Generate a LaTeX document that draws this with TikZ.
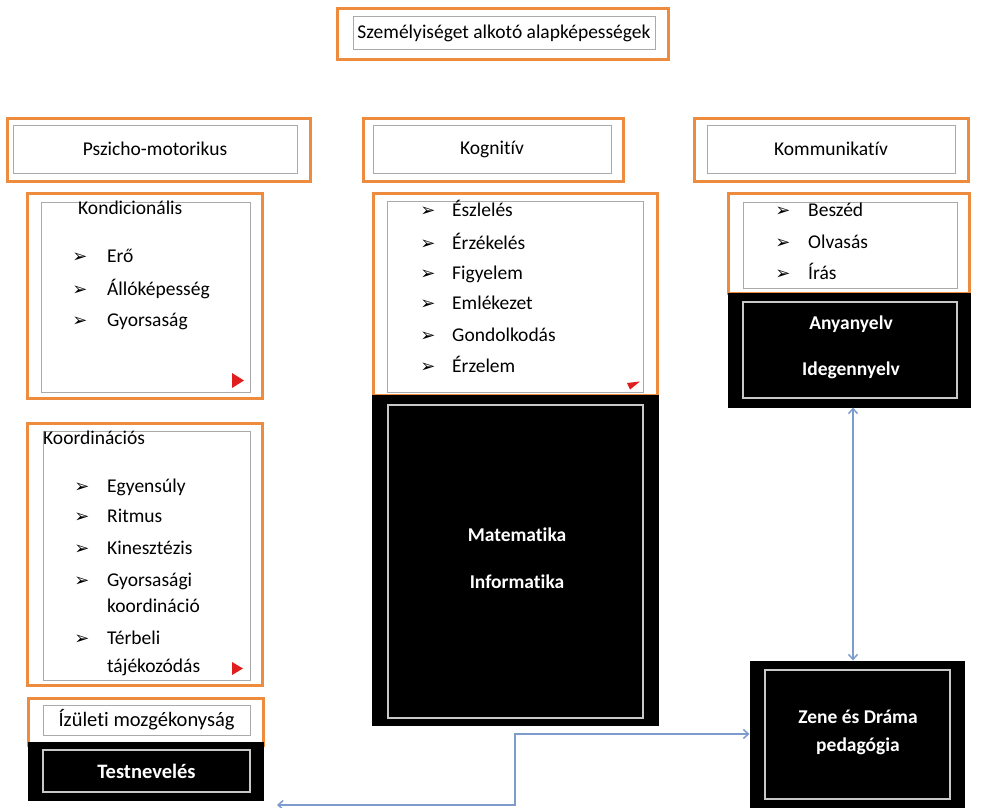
\documentclass[tikz,border=0pt]{standalone}
\usepackage{fontspec}
\setmainfont{Carlito}[Ligatures=NoCommon]
\newfontfamily\dejavu{DejaVu Sans}
\usetikzlibrary{arrows.meta}
\definecolor{orng}{RGB}{237,140,62}
\definecolor{grayln}{RGB}{170,170,170}
\definecolor{lgrayln}{RGB}{200,200,200}
\definecolor{bluearr}{RGB}{125,155,205}
\definecolor{redtri}{RGB}{225,30,30}
\begin{document}
\begin{tikzpicture}[x=1pt,y=-1pt,
  orbox/.style={draw=orng, line width=3pt, inner sep=0pt, fill=white},
  grbox/.style={draw=grayln, line width=1pt, inner sep=0pt},
  blbox/.style={draw=black, fill=black, line width=1pt, inner sep=0pt},
  bgbox/.style={draw=lgrayln, line width=1.5pt, inner sep=0pt},
  ft/.style={font=\fontsize{19.5}{23}\selectfont},
  hd/.style={font=\fontsize{19.5}{23}\selectfont},
  wt/.style={text=white, font=\fontsize{19.5}{23}\selectfont\bfseries, inner sep=0pt},
  item/.style={ft, anchor=west, inner sep=0pt, text height=13pt, text depth=4pt},
  bul/.style={font=\dejavu\fontsize{18}{20}\selectfont, inner sep=0pt},
  arr/.style={draw=bluearr, line width=1.5pt, {Straight Barb[length=5pt,width=9pt]}-{Straight Barb[length=5pt,width=9pt]}}
]
\useasboundingbox (0,0) rectangle (1004,808);

% Title
\node[orbox, minimum width=331pt, minimum height=51pt] (title) at (502.5,34.5) {};
\node[grbox, minimum width=302pt, minimum height=33pt, ft] (titlein) at (504,33.5) {Személyiséget alkotó alapképességek};

% Headers
\node[orbox, minimum width=303pt, minimum height=63pt] (psz) at (158.5,149.5) {};
\node[grbox, minimum width=284pt, minimum height=48pt, hd] (pszin) at (155,149) {Pszicho-motorikus};

\node[orbox, minimum width=260pt, minimum height=63pt] (kog) at (493,149.5) {};
\node[grbox, minimum width=238pt, minimum height=48pt, hd] (kogin) at (492,149) {Kognitív};

\node[orbox, minimum width=274pt, minimum height=63pt] (kom) at (831,149.5) {};
\node[grbox, minimum width=248pt, minimum height=48pt, hd] (komin) at (831,149) {Kommunikatív};

% Kondicionális
\node[orbox, minimum width=235pt, minimum height=205pt] (kond) at (144.5,295.5) {};
\node[grbox, minimum width=209pt, minimum height=190pt] (kondin) at (145.5,297) {};
\node[item] (kondt) at (78,210) {Kondicionális};
\node[bul] (kb1) at (80,258) {➢};
\node[item] (ki1) at (107,258) {Erő};
\node[bul] (kb2) at (80,291) {➢};
\node[item] (ki2) at (107,291) {Állóképesség};
\node[bul] (kb3) at (80,322) {➢};
\node[item] (ki3) at (107,322) {Gyorsaság};
\fill[redtri] (232,373) -- (244,380.5) -- (232,388) -- cycle;

% Koordinációs
\node[orbox, minimum width=235pt, minimum height=262pt] (koord) at (144.5,554) {};
\node[grbox, minimum width=207pt, minimum height=249pt] (koordin) at (146.5,555.5) {};
\node[item] (koordt) at (43,440) {Koordinációs};
\node[bul] (cb1) at (82,488) {➢};
\node[item] (ci1) at (107,488) {Egyensúly};
\node[bul] (cb2) at (82,518) {➢};
\node[item] (ci2) at (107,518) {Ritmus};
\node[bul] (cb3) at (82,550) {➢};
\node[item] (ci3) at (107,550) {Kinesztézis};
\node[bul] (cb4) at (82,582) {➢};
\node[item] (ci4) at (107,582) {Gyorsasági};
\node[item] (ci4b) at (107,608) {koordináció};
\node[bul] (cb5) at (82,640) {➢};
\node[item] (ci5) at (107,640) {Térbeli};
\node[item] (ci5b) at (107,668) {tájékozódás};
\fill[redtri] (232,662) -- (243,668.5) -- (232,675) -- cycle;

% Izuleti / Testneveles
\node[orbox, minimum width=235pt, minimum height=47pt] (izu) at (145.5,721.5) {};
\node[grbox, minimum width=207pt, minimum height=30pt, font=\fontsize{20.5}{24}\selectfont] (izuin) at (146.5,720) {Ízületi mozgékonyság};
\node[blbox, minimum width=235pt, minimum height=58pt] (tn) at (145.5,771) {};
\node[bgbox, minimum width=207pt, minimum height=42pt] (tnin) at (146.5,771) {};
\node[wt, font=\fontsize{20.5}{24}\selectfont\bfseries] (tnt) at (146.5,771) {Testnevelés};

% Kognitiv list
\node[orbox, minimum width=284pt, minimum height=202pt] (kogl) at (515,294) {};
\node[grbox, minimum width=256pt, minimum height=191pt] (koglin) at (515,296.5) {};
\node[bul] (gb1) at (428,212) {➢};
\node[item] (gi1) at (452,212) {Észlelés};
\node[bul] (gb2) at (428,245) {➢};
\node[item] (gi2) at (452,245) {Érzékelés};
\node[bul] (gb3) at (428,275) {➢};
\node[item] (gi3) at (452,275) {Figyelem};
\node[bul] (gb4) at (428,305) {➢};
\node[item] (gi4) at (452,305) {Emlékezet};
\node[bul] (gb5) at (428,337) {➢};
\node[item] (gi5) at (452,337) {Gondolkodás};
\node[bul] (gb6) at (428,368) {➢};
\node[item] (gi6) at (452,368) {Érzelem};
\fill[redtri] (627,383) -- (640,381.5) -- (630,389.5) -- cycle;
\node[blbox, minimum width=286pt, minimum height=330pt] (mat) at (515,560) {};
\node[bgbox, minimum width=255pt, minimum height=313pt] (matin) at (515.5,561.5) {};
\node[wt] (matt1) at (517,535) {Matematika};
\node[wt] (matt2) at (517,582) {Informatika};

% Kommunikativ list
\node[orbox, minimum width=241pt, minimum height=100pt] (koml) at (848.5,243) {};
\node[grbox, minimum width=214pt, minimum height=86pt] (komlin) at (850,245) {};
\node[bul] (mb1) at (783,212) {➢};
\node[item] (mi1) at (808,212) {Beszéd};
\node[bul] (mb2) at (783,244) {➢};
\node[item] (mi2) at (808,244) {Olvasás};
\node[bul] (mb3) at (783,275) {➢};
\node[item] (mi3) at (808,275) {Írás};
\node[blbox, minimum width=242pt, minimum height=114pt] (lang) at (849,350) {};
\node[bgbox, minimum width=214pt, minimum height=96pt] (langin) at (850,350) {};
\node[wt] (langt1) at (851,324) {Anyanyelv};
\node[wt] (langt2) at (851,370) {Idegennyelv};

% Zene es Drama
\node[blbox, minimum width=214pt, minimum height=146pt] (zene) at (857,734) {};
\node[bgbox, minimum width=185pt, minimum height=129pt] (zenein) at (857.5,734.5) {};
\node[wt] (zenet1) at (858,717) {Zene és Dráma};
\node[wt] (zenet2) at (858,746) {pedagógia};

% Connectors
\coordinate (tnend) at (277,805);
\draw[arr] (lang.south -| 853,0) -- (zene.north -| 853,0);
\draw[arr] (tnend) -| (515,734) -- (zene.west);
\end{tikzpicture}
\end{document}
